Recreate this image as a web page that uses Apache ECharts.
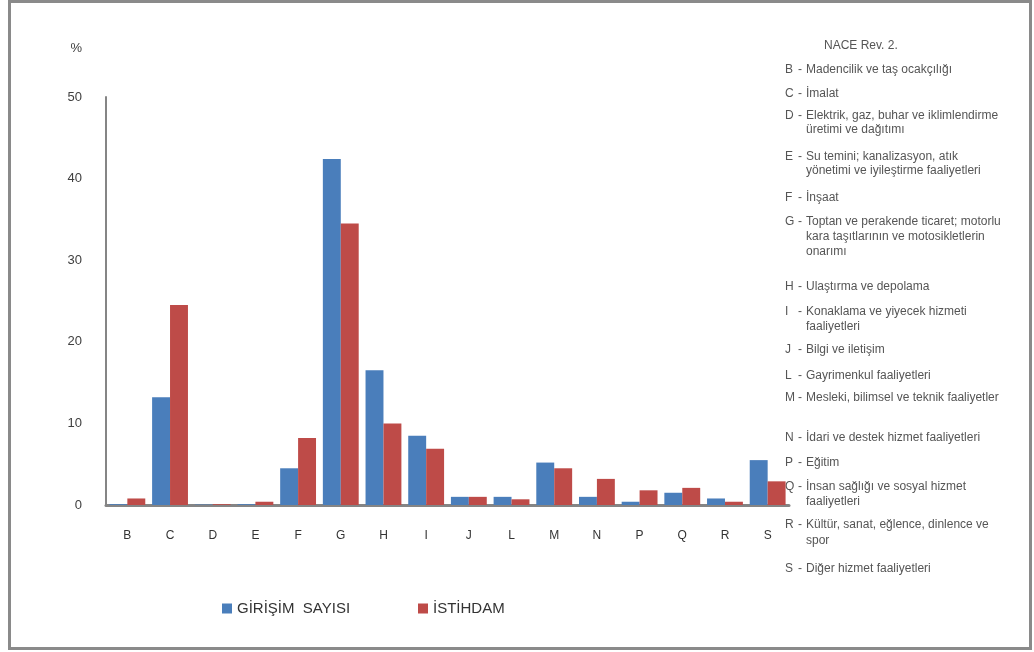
<!DOCTYPE html>
<html>
<head>
<meta charset="utf-8">
<script src="https://cdn.jsdelivr.net/npm/echarts@6/dist/echarts.min.js"></script>
<style>
html,body{margin:0;padding:0;background:#fff;}
#c{width:1034px;height:652px;}
</style>
</head>
<body>
<div id="c"></div>
<script>
var categories = ['B','C','D','E','F','G','H','I','J','L','M','N','P','Q','R','S'];
var girisimSayisi = [0.1, 13.2, 0.05, 0.1, 4.5, 42.4, 16.5, 8.5, 1.0, 1.0, 5.2, 1.0, 0.4, 1.5, 0.8, 5.5];
var istihdam = [0.8, 24.5, 0.1, 0.4, 8.2, 34.5, 10.0, 6.9, 1.0, 0.7, 4.5, 3.2, 1.8, 2.1, 0.4, 2.9];
var seriesNames = ['GİRİŞİM  SAYISI', 'İSTİHDAM'];
var yTicks = [0, 10, 20, 30, 40, 50];
var naceTitle = 'NACE Rev. 2.';
var naceCodes = ['B','C','D','','E','','F','G','','','H','I','','J','L','M','N','P','Q','','R','','S'];
var naceTexts = [
  'Madencilik ve taş ocakçılığı',
  'İmalat',
  'Elektrik, gaz, buhar ve iklimlendirme',
  'üretimi ve dağıtımı',
  'Su temini; kanalizasyon, atık',
  'yönetimi ve iyileştirme faaliyetleri',
  'İnşaat',
  'Toptan ve perakende ticaret; motorlu',
  'kara taşıtlarının ve motosikletlerin',
  'onarımı',
  'Ulaştırma ve depolama',
  'Konaklama ve yiyecek hizmeti',
  'faaliyetleri',
  'Bilgi ve iletişim',
  'Gayrimenkul faaliyetleri',
  'Mesleki, bilimsel ve teknik faaliyetler',
  'İdari ve destek hizmet faaliyetleri',
  'Eğitim',
  'İnsan sağlığı ve sosyal hizmet',
  'faaliyetleri',
  'Kültür, sanat, eğlence, dinlence ve',
  'spor',
  'Diğer hizmet faaliyetleri'
];
// layout: vertical line positions for the side notes
var noteY = [70, 94, 116, 130, 157, 171, 198, 222, 237, 252, 287, 312, 327, 350, 376, 398, 438, 463, 487, 502, 525, 541, 569];

var FONT = 'Liberation Sans, Arial, sans-serif';
var NOTE_FONT = '12px ' + FONT;
var graphics = [
  {type:'rect', shape:{x:9.5, y:1.5, width:1021, height:647}, style:{fill:'none', stroke:'#8a8a8a', lineWidth:3}, silent:true},
  {type:'text', x:82, y:48, style:{text:'%', fill:'#404040', font:'13px ' + FONT, textAlign:'right', textVerticalAlign:'middle'}},
  {type:'text', x:824, y:46, style:{text:naceTitle, fill:'#555', font:NOTE_FONT, textVerticalAlign:'middle'}}
];
for (var i = 0; i < naceTexts.length; i++) {
  if (naceCodes[i]) {
    graphics.push({type:'text', x:785, y:noteY[i], style:{text:naceCodes[i], fill:'#555', font:NOTE_FONT, textVerticalAlign:'middle'}});
    graphics.push({type:'text', x:798, y:noteY[i], style:{text:'-', fill:'#555', font:NOTE_FONT, textVerticalAlign:'middle'}});
  }
  graphics.push({type:'text', x:806, y:noteY[i], style:{text:naceTexts[i], fill:'#555', font:NOTE_FONT, textVerticalAlign:'middle'}});
}

var legendText = {color:'#333', fontSize:15, fontFamily:FONT};
var chart = echarts.init(document.getElementById('c'), null, {renderer:'canvas'});
chart.setOption({
  animation:false,
  backgroundColor:'#fff',
  textStyle:{fontFamily:FONT},
  grid:{left:106, right:245, top:97, bottom:147, containLabel:false},
  legend:[
    {data:[seriesNames[0]], left:217, top:596, itemWidth:10, itemHeight:10, icon:'rect', textStyle:legendText},
    {data:[seriesNames[1]], left:413, top:596, itemWidth:10, itemHeight:10, icon:'rect', textStyle:legendText}
  ],
  xAxis:{
    type:'category',
    data:categories,
    axisLine:{lineStyle:{color:'#858585', width:3}},
    axisTick:{show:false},
    axisLabel:{color:'#333', fontSize:12, margin:25}
  },
  yAxis:{
    type:'value',
    min:0, max:50, interval:10,
    axisLine:{show:true, lineStyle:{color:'#858585', width:2}},
    axisTick:{show:false},
    splitLine:{show:false},
    axisLabel:{color:'#404040', fontSize:13, margin:24,
      formatter:function(v){return yTicks.indexOf(v) >= 0 ? String(v) : '';}}
  },
  series:[
    {name:seriesNames[0], type:'bar', data:girisimSayisi, barGap:'0%', barCategoryGap:'16%', itemStyle:{color:'#4a7ebb'}},
    {name:seriesNames[1], type:'bar', data:istihdam, barGap:'0%', barCategoryGap:'16%', itemStyle:{color:'#be4b48'}}
  ],
  graphic:graphics
});
</script>
</body>
</html>
